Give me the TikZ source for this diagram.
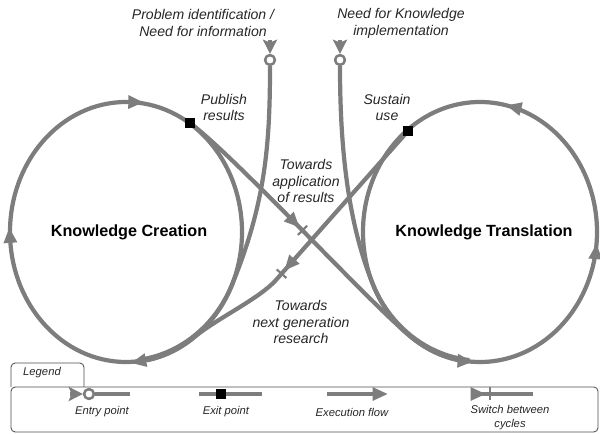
\documentclass[tikz,border=0pt]{standalone}
\usepackage{fontspec}
\setmainfont{Liberation Sans}
\usetikzlibrary{arrows.meta,decorations.markings}
\definecolor{cyclegray}{RGB}{125,125,125}

\begin{document}
\begin{tikzpicture}[x=0.025cm,y=0.025cm, line join=round,
    >={Triangle[length=11pt,width=9pt]},
    flow/.style={color=cyclegray, line width=3pt},
    entry/.style={circle, draw=cyclegray, line width=1.8pt, fill=white, minimum size=7pt, inner sep=0pt},
    exit/.style={rectangle, fill=black, minimum size=7pt, inner sep=0pt},
    intip/.style={-{Stealth[length=10pt,width=10pt,inset=2pt]}},
    lbl/.style={font=\fontsize{10}{12}\selectfont\itshape, text=black!85, align=center},
    cyclename/.style={font=\fontsize{11.5}{14}\selectfont\bfseries},
    lgd/.style={font=\fontsize{8}{10}\selectfont\itshape, text=black!85, align=center},
    frame/.style={draw=black!70, line width=0.6pt, rounded corners=3pt},
    cw marks/.style={postaction={decorate}, decoration={markings,
        mark=at position 0.247 with {\arrow{<}},
        mark=at position 0.514 with {\arrow{<}},
        mark=at position 0.776 with {\arrow{<}}}},
    ccw marks/.style={postaction={decorate}, decoration={markings,
        mark=at position 0.216 with {\arrow{>}},
        mark=at position 0.741 with {\arrow{>}},
        mark=at position 0.985 with {\arrow{>}}}},
    switch/.style={postaction={decorate}, decoration={markings,
        mark=at position #1 with {\arrow{>}},
        mark=at position #1 with {\draw[cyclegray, line width=1.5pt] (4,-6.5) -- (4,6.5);}}},
  ]
  \useasboundingbox (0,0) rectangle (600,434);

  % the two cycles
  \coordinate (c1) at (126,202);
  \coordinate (c2) at (480,202);
  \draw[flow, cw marks] (c1) ellipse [x radius=116, y radius=130];
  \draw[flow, ccw marks] (c2) ellipse [x radius=117, y radius=130];
  \node[cyclename] (kc) at (129,202) {Knowledge Creation};
  \node[cyclename] (kt) at (484,202) {Knowledge Translation};

  % entry points
  \node[entry] (in1) at (270,374) {};
  \node[entry] (in2) at (340,374) {};
  \coordinate (t1) at (270,394);
  \coordinate (t2) at (340,394);
  \draw[flow, intip] (t1) -- (in1);
  \draw[flow, intip] (t2) -- (in2);

  % where the lines run into the cycles
  \coordinate (m1) at (231.1,147.1);
  \coordinate (m2) at (374,147.1);
  \coordinate (m3) at (414.9,94);
  \coordinate (m4) at (194.3,96.9);
  \coordinate (x1) at (190,311);
  \coordinate (x2) at (408,303);
  \coordinate (k2) at (276,154);

  \draw[flow] (in1) .. controls (270,290) and (265.6,230) .. (m1)
    arc[start angle=-25, end angle=-80, x radius=118, y radius=128];
  \draw[flow] (in2) .. controls (340,290) and (347,211.5) .. (m2)
    arc[start angle=205, end angle=264, x radius=119, y radius=128];

  % switching from one cycle to the other
  \draw[flow, switch=0.41] (x1) .. controls (238,275) and (378.8,120.9) .. (m3)
    arc[start angle=236.2, end angle=264, x radius=115, y radius=132];
  \draw[flow, switch=0.53] (x2) -- (k2) .. controls (259.4,135.3) and (217.5,115.9) .. (m4)
    arc[start angle=-53.9, end angle=-80, x radius=114, y radius=131];

  % exit points
  \node[exit] (out1) at (x1) {};
  \node[exit] (out2) at (x2) {};

  % labels
  \node[lbl] (need1) at (203,411) {Problem identification /\\Need for information};
  \node[lbl] (need2) at (401,411) {Need for Knowledge\\implementation};
  \node[lbl] (pub) at (224,326.5) {Publish\\results};
  \node[lbl] (sus) at (387,326.5) {Sustain\\use};
  \node[lbl] (app) at (306,253) {Towards\\application\\of results};
  \node[lbl] (nxt) at (301,112) {Towards\\next generation\\research};

  % legend
  \draw[frame] (11,47) -- (11,71) -- (84,71) -- (84,47);
  \draw[frame] (11,2) rectangle (598,47);
  \node[lgd] (lgdhead) at (42,61) {Legend};

  \node[entry] (le) at (89,40) {};
  \coordinate (le0) at (70,40);
  \coordinate (le1) at (130,40);
  \draw[flow, intip] (le0) -- (le);
  \draw[flow] (le) -- (le1);

  \coordinate (lx0) at (199,40);
  \coordinate (lx1) at (262,40);
  \draw[flow] (lx0) -- (lx1);
  \node[exit] (lx) at (221,40) {};

  \coordinate (lf0) at (327,40);
  \coordinate (lf1) at (388,40);
  \draw[flow, ->] (lf0) -- (lf1);

  \coordinate (ls0) at (472,40);
  \coordinate (ls1) at (533,40);
  \draw[flow, switch=0.23] (ls0) -- (ls1);

  \node[lgd] (lentry) at (102,22) {Entry point};
  \node[lgd] (lexit) at (226,22) {Exit point};
  \node[lgd] (lflow) at (352,22) {Execution flow};
  \node[lgd] (lswitch) at (510,16) {Switch between\\cycles};
\end{tikzpicture}
\end{document}
